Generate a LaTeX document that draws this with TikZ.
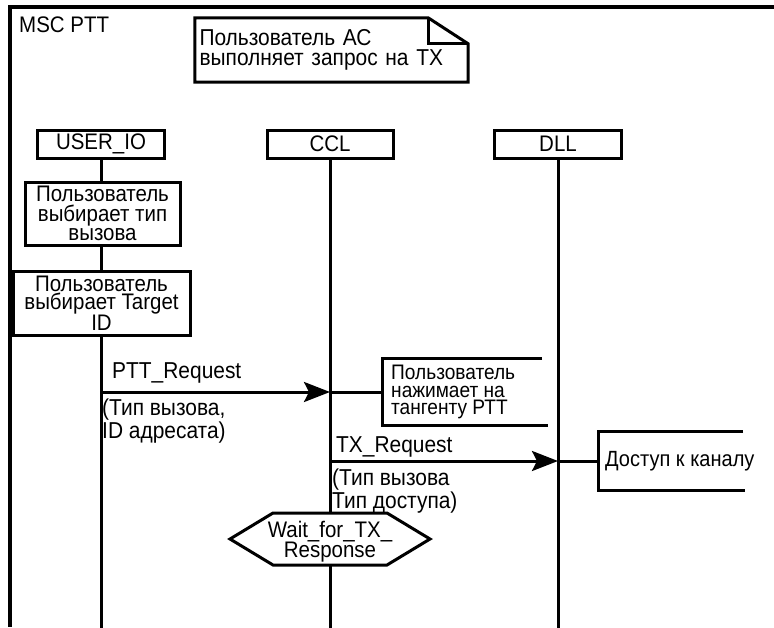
\documentclass[tikz,border=0pt]{standalone}
\usepackage{fontspec}
\setmainfont{Liberation Sans}[FakeStretch=0.91]
\usetikzlibrary{arrows.meta}
\begin{document}
\begin{tikzpicture}[x=1pt,y=-1pt,
  every node/.style={font=\fontsize{22.5}{19.5}\selectfont, inner sep=0pt},
  ln/.style={line width=3pt},
  head/.style={draw, line width=3pt, minimum width=127pt, minimum height=28pt},
  act/.style={draw, line width=3pt, align=center},
  lbl/.style={align=left, font=\fontsize{23}{20}\selectfont},
  cmt/.style={align=left, anchor=west, inner xsep=8pt},
  msg/.style={line width=3pt, -{Stealth[length=26pt,width=20pt,inset=5pt]}},
]
\useasboundingbox (0,0) rectangle (774,627);

% frame
\draw[line width=3.5pt] (774,7) -- (10,7) -- (10,627);
\node[anchor=west] (title) at (19,25) {MSC PTT};

% note with folded corner
\node[minimum width=273pt, minimum height=64pt, align=left, text width=264pt, inner xsep=4.5pt,
      font=\fontsize{23}{20}\selectfont] (note) at (331.5,50)
  {Пользователь АС\\выполняет запрос на ТХ};
\draw[ln, line join=miter] (note.north west) -- ([xshift=-40pt]note.north east) -- ([yshift=-26pt]note.north east)
  -- (note.south east) -- (note.south west) -- cycle;
\draw[ln] ([xshift=-40pt]note.north east) |- ([yshift=-26pt]note.north east);

% instance heads
\node[head] (u) at (101,144) {USER\_IO};
\node[head, minimum width=126pt] (c) at (330,144) {CCL};
\node[head] (d) at (558,144) {DLL};

% actions
\node[act, minimum width=155pt, minimum height=63pt] (a1) at (102.5,213.5)
  {Пользователь\\выбирает тип\\вызова};
\node[act, minimum width=177pt, minimum height=64pt, font=\fontsize{22.5}{18}\selectfont] (a2) at (101.5,303)
  {Пользователь\\выбирает Target\\ID};

% condition hexagon
\node[align=center, font=\fontsize{22.5}{20}\selectfont] (w) at (330,542) {Wait\_for\_TX\_\\Response};
\draw[ln, line join=miter] (230,539) -- (273,513) -- (387,513) -- (430,539) -- (387,565) -- (273,565) -- cycle;
\coordinate (wt) at (330,513);
\coordinate (wb) at (330,565);

% bottom ends of lifelines
\coordinate (ub) at (101,630);
\coordinate (cb) at (330,630);
\coordinate (db) at (558,630);

% lifelines
\draw[ln] (u.south) -- (u.south |- a1.north);
\draw[ln] (u.south |- a1.south) -- (u.south |- a2.north);
\draw[ln] (u.south |- a2.south) -- (ub);
\draw[ln] (c.south) -- (wt);
\draw[ln] (wb) -- (cb);
\draw[ln] (d.south) -- (db);

% message PTT_Request
\coordinate (m1a) at (101,392);
\coordinate (m1b) at (330,392);
\draw[msg] (m1a) -- (m1b);
\node[lbl, anchor=west] (l1) at (112,373) {PTT\_Request};
\node[lbl, anchor=north west] (p1) at (102,399) {(Тип вызова,\\ID адресата)};

% comment at CCL
\node[cmt, minimum height=67pt, inner xsep=9pt, font=\fontsize{21}{17.5}\selectfont] (c1) at (382,392)
  {Пользователь\\нажимает на\\тангенту РТТ};
\draw[ln] (m1b) -- (c1.west);
\draw[ln] ([xshift=160pt]c1.north west) -- (c1.north west) -- (c1.south west) -- ([xshift=166pt]c1.south west);

% message TX_Request
\coordinate (m2a) at (330,461);
\coordinate (m2b) at (558,461);
\draw[msg] (m2a) -- (m2b);
\node[lbl, anchor=west] (l2) at (336,447) {TX\_Request};
\node[lbl, anchor=north west] (p2) at (332,469) {(Тип вызова\\Тип доступа)};

% comment at DLL
\node[cmt, minimum height=59pt, inner xsep=7pt, font=\fontsize{22}{20}\selectfont] (c2) at (598,461) {Доступ к каналу};
\draw[ln] (m2b) -- (c2.west);
\draw[ln] ([xshift=145pt]c2.north west) -- (c2.north west) -- (c2.south west) -- ([xshift=147pt]c2.south west);

\end{tikzpicture}
\end{document}
